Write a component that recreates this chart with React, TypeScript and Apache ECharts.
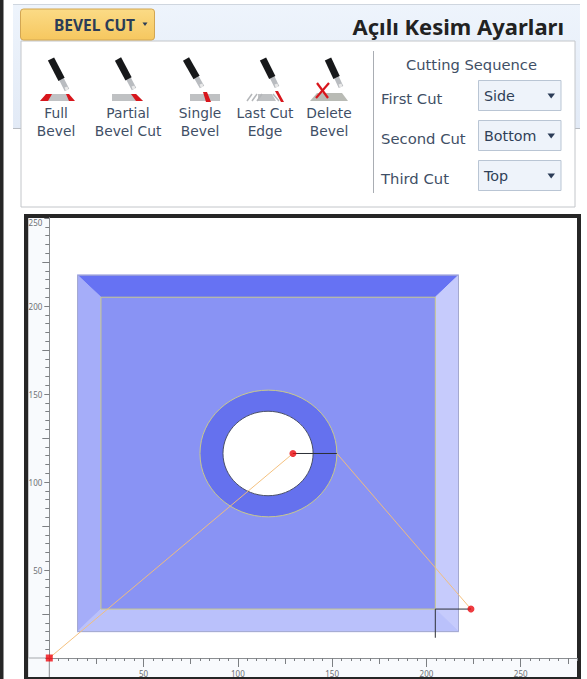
import React, { useEffect, useRef } from "react";
import * as echarts from "echarts";

const xMajorTicks = [50, 100, 150, 200, 250];
const xMidTicks = [25, 75, 125, 175, 225, 275];
const yMajorTicks = [50, 100, 150, 200, 250];
const yMidTicks = [25, 75, 125, 175, 225];

const faceTop = [[15, 217.5], [217, 217.5], [204.7, 205], [27.4, 205]];
const faceLeft = [[15, 15], [15, 217.5], [27.4, 205], [27.4, 27.8]];
const faceRight = [[217, 15], [217, 217.5], [204.7, 205], [204.7, 27.8]];
const faceBottom = [[15, 15], [217, 15], [204.7, 27.8], [27.4, 27.8]];
const faceInner = [[27.4, 27.8], [204.7, 27.8], [204.7, 205], [27.4, 205]];
const plateOutline = [[15, 15], [217, 15], [217, 217.5], [15, 217.5]];
const faces = [faceTop, faceLeft, faceRight, faceBottom, plateOutline, faceInner];
const faceColors = ["#6672f3", "#a5adf9", "#c6cbfc", "#bac1fb", "none", "#8993f4"];
const faceStrokes = ["#6672f3", "#a5adf9", "#c6cbfc", "#bac1fb", "#a4a9cf", "#c9c98c"];

const holeOuter = [116.2, 116.2, 36.3, 36];
const holeInner = [116, 116.2, 23.9, 24];

const leadIn = [[0, 0], [129.2, 116.2]];
const leadOut = [[152.5, 116.2], [223.6, 27.8]];
const startRun = [[129.2, 116.2], [152.5, 116.2]];
const cornerRunH = [[204.7, 27.8], [223.6, 27.8]];
const cornerRunV = [[204.7, 27.8], [204.7, 11.5]];
const originPoint = [[0, 0]];
const endPoints = [[129.2, 116.2], [223.6, 27.8]];

const iconLabels = [
  ["Full", "Bevel"],
  ["Partial", "Bevel Cut"],
  ["Single", "Bevel"],
  ["Last Cut", "Edge"],
  ["Delete", "Bevel"],
];
const sequenceLabels = ["First Cut", "Second Cut", "Third Cut"];
const sequenceValues = ["Side", "Bottom", "Top"];

const FONT = "'Noto Sans', sans-serif";
const UI_FONT = "'DejaVu Sans', sans-serif";
const INK = "#3f4f66";

function txt(x: number, y: number, text: string, size: number, color: string, align = "center", weight: any = "normal", font = UI_FONT) {
  return { type: "text", x, y, z: 30, style: { text, fontSize: size, fill: color, fontFamily: font, fontWeight: weight, align, verticalAlign: "middle" } };
}
function box(x: number, y: number, width: number, height: number, fill: any, stroke: any, z = 1, r = 0) {
  return { type: "rect", z, shape: { x, y, width, height, r }, style: { fill, stroke } };
}
function poly(points: number[][], fill: string, z = 31) {
  return { type: "polygon", z, shape: { points }, style: { fill } };
}
function seg(x1: number, y1: number, x2: number, y2: number, stroke: string, lineWidth = 1, z = 31) {
  return { type: "line", z, shape: { x1, y1, x2, y2 }, style: { stroke, lineWidth } };
}
function torch(x1: number, y1: number, x2: number, y2: number) {
  const mx = x1 + (x2 - x1) * 0.66;
  const my = y1 + (y2 - y1) * 0.66;
  return [
    seg(mx, my, x2, y2, "#b9bcc0", 5),
    seg(x2 - 1, y2 - 3, x2, y2, "#e8e8e8", 3),
    seg(x1, y1, mx, my, "#17181a", 7),
  ];
}

function uiGraphics() {
  const els: any[] = [
    box(0, 0, 3.5, 679, "#262626", "none", 1),
    {
      type: "rect", z: 1, shape: { x: 13, y: 4, width: 567, height: 124 },
      style: {
        fill: new echarts.graphic.LinearGradient(0, 0, 0, 1, [
          { offset: 0, color: "#eef4fc" }, { offset: 1, color: "#e2eaf6" },
        ]),
      },
    },
    seg(13, 4.5, 580, 4.5, "#cfd6df", 1, 2),
    seg(13, 128.5, 22, 128.5, "#b8bcc2", 1, 2),
    seg(574, 128.5, 580, 128.5, "#b8bcc2", 1, 2),
    box(21, 41, 554, 166, "#ffffff", "#c3c6ca", 3),
    {
      type: "rect", z: 4, shape: { x: 20.5, y: 9, width: 134, height: 31, r: 3 },
      style: {
        stroke: "#d2a653",
        fill: new echarts.graphic.LinearGradient(0, 0, 0, 1, [
          { offset: 0, color: "#fbdb86" }, { offset: 1, color: "#f6c75f" },
        ]),
      },
    },
    txt(54, 24.5, "BEVEL CUT", 15.5, "#2b3c57", "left", "bold", FONT),
    poly([[142.5, 22.5], [147.5, 22.5], [145, 26]], "#2b3c57"),
    txt(564, 25.5, "Açılı Kesim Ayarları", 22, "#222222", "right", "bold", FONT),
    seg(373.5, 51, 373.5, 193, "#a9adb3", 1),
    txt(471.5, 64, "Cutting Sequence", 14.7, INK),
  ];

  const centers = [56, 128, 200, 265, 329];
  iconLabels.forEach((lines, i) => {
    els.push(txt(centers[i], 113, lines[0], 13.8, INK));
    els.push(txt(centers[i], 131, lines[1], 13.8, INK));
  });
  sequenceLabels.forEach((label, i) => {
    const y = 98 + i * 40;
    els.push(txt(381, y, label, 14.8, INK, "left"));
    els.push(box(478.5, y - 17.5, 82.5, 30, "#eef3fa", "#b9c5d4", 5));
    els.push(txt(484, y - 2, sequenceValues[i], 14.3, "#2f3f57", "left"));
    els.push(poly([[547.5, y - 4.5], [555, y - 4.5], [551.2, y + 0.5]], "#2b3c57"));
  });

  // Full bevel icon
  els.push(poly([[47, 94], [68, 94], [74, 101], [40, 101]], "#c0c2c4", 30));
  els.push(poly([[40, 101], [46, 94], [52, 94], [48, 101]], "#d8161c"));
  els.push(poly([[66, 94], [69, 94], [75, 101], [69, 101]], "#d8161c"));
  els.push(...torch(51, 59, 67, 90));
  // Partial bevel icon
  els.push(poly([[112, 94], [136, 94], [143, 101], [112, 101]], "#bfc1c3", 30));
  els.push(poly([[131, 94], [136, 94], [143, 101], [136, 101]], "#d8161c"));
  els.push(...torch(118, 59, 134, 89));
  // Single bevel icon
  els.push(poly([[190, 94], [220, 94], [220, 101], [190, 101]], "#bfc1c3", 30));
  els.push(poly([[203, 92], [207, 92], [211, 102], [206, 102]], "#d8161c"));
  els.push(...torch(186, 59, 202, 87));
  // Last cut edge icon
  els.push(poly([[258, 94], [272, 94], [276, 101], [258, 101]], "#bfc1c3", 30));
  [247, 252, 257].forEach((x) => els.push(seg(x, 101, x + 5, 94, "#b5b7ba", 1.5)));
  els.push(seg(273, 94, 279, 101, "#b5b7ba", 1.5));
  els.push(poly([[275, 91], [278, 91], [284, 102], [281, 102]], "#d8161c"));
  els.push(...torch(263, 59, 277, 87));
  // Delete bevel icon
  els.push(poly([[317, 93], [342, 93], [348, 101], [310, 101]], "#b9bbb5", 30));
  els.push(...torch(328, 59, 341, 87));
  els.push(seg(317, 83, 328, 98, "#d8161c", 2.2, 33));
  els.push(seg(329, 83, 316, 98, "#d8161c", 2.2, 33));

  // Chart frame
  els.push(box(24, 214, 557, 465, "#262626", "none", -3));
  els.push(box(28.5, 218, 548.5, 459, "#ffffff", "none", -2));
  els.push(box(28.5, 658, 548.5, 19, "#f8fafd", "none", -1));
  els.push(box(28.5, 218, 20.8, 459, "#f8fafd", "none", -1));
  els.push(seg(49.3, 658, 49.3, 677, "#8a8d90", 1, -1));
  els.push(seg(28.5, 658, 49.3, 658, "#a5a8ac", 1, -1));
  return els;
}

function App() {
  const ref = useRef<HTMLDivElement>(null);
  useEffect(() => {
    document.body.style.margin = "0";
    const chart = echarts.init(ref.current!, null, { renderer: "svg" });
    const tickStyle = { color: "#7c7f83", width: 1 };
    const xBase = { type: "value", min: 0, max: 280, interval: 5, position: "bottom", splitLine: { show: false }, axisLine: { onZero: false, lineStyle: { color: "#8a8d90" } } };
    const yBase = { type: "value", min: 0, max: 250, interval: 5, position: "left", splitLine: { show: false }, axisLine: { onZero: false, lineStyle: { color: "#8a8d90" } } };
    const labelStyle = { color: "#6d7074", fontSize: 8, fontFamily: FONT };
    const plain = { show: true };
    const option: any = {
      animation: false,
      backgroundColor: "#ffffff",
      grid: { left: 49.3, top: 218, width: 528, height: 440, containLabel: false },
      xAxis: [
        { ...xBase, axisTick: { ...plain, length: 3, lineStyle: tickStyle }, axisLabel: { show: false } },
        { ...xBase, axisTick: { ...plain, length: 6, customValues: xMidTicks, lineStyle: tickStyle }, axisLabel: { show: false } },
        { ...xBase, axisTick: { ...plain, length: 9, customValues: xMajorTicks, lineStyle: tickStyle }, axisLabel: { ...labelStyle, show: true, margin: 11, customValues: xMajorTicks } },
      ],
      yAxis: [
        { ...yBase, axisTick: { ...plain, length: 4, lineStyle: tickStyle }, axisLabel: { show: false } },
        { ...yBase, axisTick: { ...plain, length: 7, customValues: yMidTicks, lineStyle: tickStyle }, axisLabel: { show: false } },
        { ...yBase, axisTick: { ...plain, length: 5, customValues: yMajorTicks, lineStyle: tickStyle }, axisLabel: { ...labelStyle, show: true, margin: 7, customValues: yMajorTicks, verticalAlignMaxLabel: "top" } },
      ],
      graphic: { elements: uiGraphics() },
      series: [
        {
          type: "custom", coordinateSystem: "cartesian2d", z: 2, clip: false, silent: true,
          data: faces.map((_, i) => [i]),
          encode: { x: 0 },
          renderItem: (params: any, api: any) => ({
            type: "polygon",
            shape: { points: faces[params.dataIndex].map((p) => api.coord(p)) },
            style: {
              fill: faceColors[params.dataIndex],
              stroke: faceStrokes[params.dataIndex],
              lineWidth: 1,
              lineJoin: "round",
            },
          }),
        },
        {
          type: "custom", coordinateSystem: "cartesian2d", z: 3, clip: false, silent: true,
          data: [holeOuter, holeInner],
          encode: { x: 0, y: 1 },
          renderItem: (params: any, api: any) => {
            const c = api.coord([api.value(0), api.value(1)]);
            const s = api.size([api.value(2), api.value(3)]);
            const isOuter = params.dataIndex === 0;
            return {
              type: "ellipse",
              shape: { cx: c[0], cy: c[1], rx: s[0], ry: s[1] },
              style: {
                fill: isOuter ? "#6571ee" : "#ffffff",
                stroke: isOuter ? "#c9c98c" : "#4a5068",
                lineWidth: 1,
              },
            };
          },
        },
        ...[leadIn, leadOut].map((data) => ({
          type: "line", data, z: 4, symbol: "none", silent: true,
          lineStyle: { color: "rgba(243,190,120,0.95)", width: 1 },
        })),
        ...[startRun, cornerRunH, cornerRunV].map((data) => ({
          type: "line", data, z: 5, symbol: "none", silent: true,
          lineStyle: { color: "#2d3038", width: 1 },
        })),
        { type: "scatter", data: originPoint, z: 6, symbol: "rect", symbolSize: 7, itemStyle: { color: "#f00a10" }, silent: true, clip: false },
        { type: "scatter", data: endPoints, z: 6, symbol: "circle", symbolSize: 7, itemStyle: { color: "#ea0a10" }, silent: true, clip: false },
      ],
    };
    chart.setOption(option);
    return () => chart.dispose();
  }, []);
  return <div ref={ref} style={{ position: "fixed", left: 0, top: 0, width: 587, height: 679 }} />;
}

export default App;
